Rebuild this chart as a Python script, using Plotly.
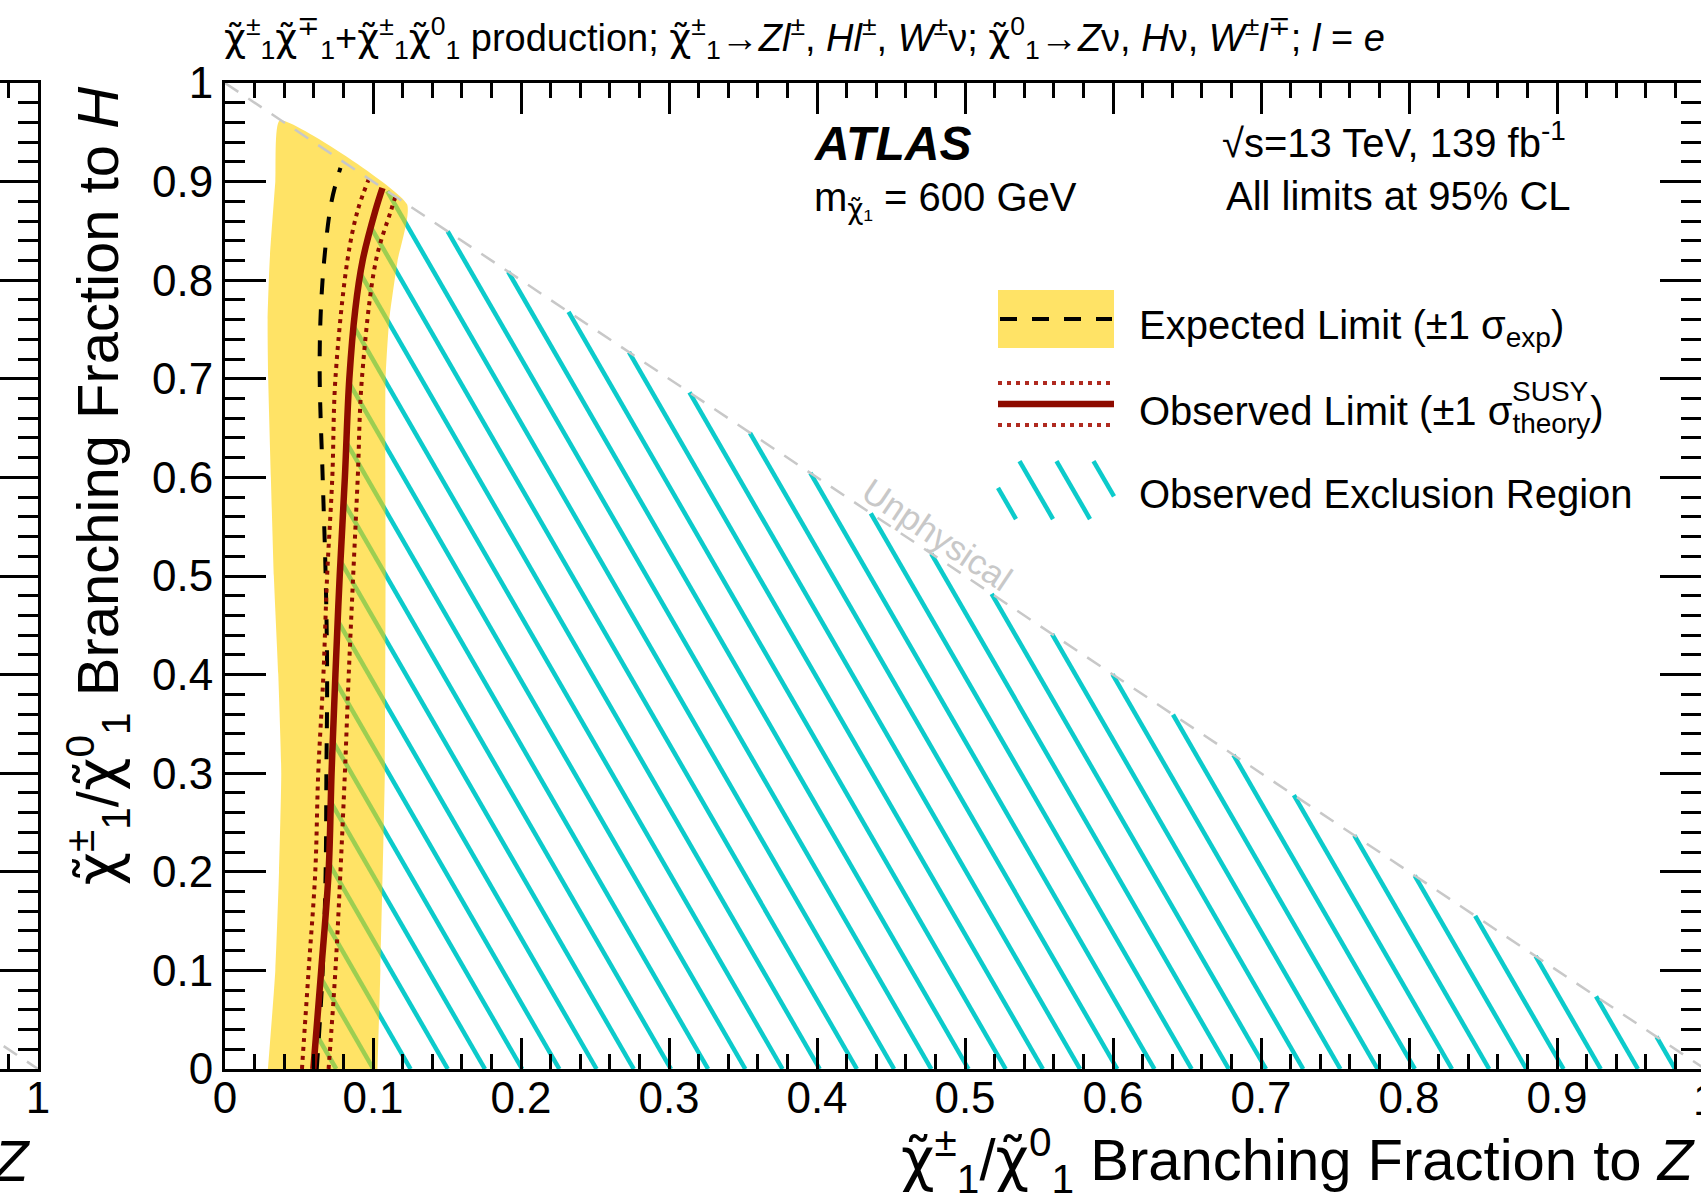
import numpy as np
import plotly.graph_objects as go

FIG_W, FIG_H = 1701, 1201
FONT = "Liberation Sans, Arial, Helvetica, sans-serif"

# ---------------------------------------------------------------------------
# Limits in the (BF to Z, BF to H) plane, m(chi1) = 600 GeV
# ---------------------------------------------------------------------------
# Observed 95% CL contour
obs_bf_h = [0.0, 0.1, 0.2, 0.3, 0.4, 0.5, 0.6, 0.7, 0.77, 0.82, 0.871, 0.8935]
obs_bf_z = [0.0597, 0.065, 0.070, 0.072, 0.0746, 0.0775, 0.081, 0.084, 0.088, 0.093, 0.1017, 0.1064]

# Observed contour, signal cross-section +1 sigma (theory)
obs_hi_bf_h = [0.0, 0.1, 0.2, 0.3, 0.4, 0.5, 0.6, 0.7, 0.82, 0.87, 0.902]
obs_hi_bf_z = [0.052, 0.0565, 0.061, 0.063, 0.0665, 0.069, 0.0725, 0.0746, 0.0827, 0.0895, 0.097]

# Observed contour, signal cross-section -1 sigma (theory)
obs_lo_bf_h = [0.0, 0.1, 0.2, 0.3, 0.4, 0.5, 0.6, 0.7, 0.82, 0.87, 0.884]
obs_lo_bf_z = [0.070, 0.0746, 0.078, 0.081, 0.0836, 0.0866, 0.0897, 0.0925, 0.102, 0.112, 0.115]

# Expected contour
exp_bf_h = [0.0, 0.1, 0.2, 0.3, 0.4, 0.5, 0.6, 0.7, 0.76, 0.82, 0.88, 0.914]
exp_bf_z = [0.062, 0.066, 0.068, 0.0685, 0.069, 0.068, 0.066, 0.064, 0.0645, 0.067, 0.072, 0.078]

# Expected +-1 sigma band: left edge (bottom -> top), right edge (top -> bottom)
band_left_bf_h = [0.0, 0.1, 0.2, 0.3, 0.4, 0.5, 0.6, 0.7, 0.76, 0.82, 0.9, 0.962]
band_left_bf_z = [0.029, 0.034, 0.0365, 0.038, 0.036, 0.033, 0.031, 0.0292, 0.0288, 0.0302, 0.034, 0.037]
band_right_bf_h = [0.877, 0.82, 0.76, 0.7, 0.5, 0.3, 0.1, 0.0]
band_right_bf_z = [0.123, 0.1166, 0.111, 0.1085, 0.1085, 0.108, 0.105, 0.103]

# Kinematic boundary BF(Z) + BF(H) = 1
unphys_bf_z = [0.0, 1.0]
unphys_bf_h = [1.0, 0.0]

# ---------------------------------------------------------------------------
# Colours / styles
# ---------------------------------------------------------------------------
CYAN = "#0ccbcb"
BAND = "rgba(255,208,0,0.6)"
DARK_RED = "#8e0b00"
GREY = "#c8c8c8"

# pixel geometry of the main frame
X0_PX, X1_PX = 225, 1705          # BF(Z)=0 and BF(Z)=1
Y0_PX, Y1_PX = 1069, 83           # BF(H)=0 and BF(H)=1
UNIT_X = X1_PX - X0_PX
UNIT_Y = Y0_PX - Y1_PX


def fx(p):
    return p / FIG_W


def fy(p):
    return 1 - p / FIG_H


# ---------------------------------------------------------------------------
# Hatching of the observed exclusion region (right of the observed contour,
# below the kinematic boundary), 60 degree lines on screen
# ---------------------------------------------------------------------------
HATCH_ANGLE = np.radians(60)
HATCH_STEP = 0.02513
HATCH_PHASE = 0.02488
hatch_slope = (UNIT_Y / UNIT_X) / np.tan(HATCH_ANGLE)


def hatch_lines(edge_z, edge_h, step, slope, phase):
    h = np.linspace(0.0, 1.0, 8001)
    edge = np.interp(h, edge_h, edge_z)
    xs, ys = [], []
    z0 = phase
    while z0 <= 1.0:
        z = z0 - slope * h
        inside = (z >= edge) & (z + h <= 1.0)
        if inside[0]:
            top = len(h) - 1 if inside.all() else int(np.argmin(inside)) - 1
            xs += [z0, float(z[top]), None]
            ys += [0.0, float(h[top]), None]
        z0 += step
    return xs, ys


hx, hy = hatch_lines(obs_bf_z, obs_bf_h, HATCH_STEP, hatch_slope, HATCH_PHASE)

fig = go.Figure()

fig.add_trace(go.Scatter(x=hx, y=hy, mode="lines",
                         line=dict(color=CYAN, width=4.5), hoverinfo="skip"))

band_z = band_left_bf_z + band_right_bf_z
band_h = band_left_bf_h + band_right_bf_h
fig.add_trace(go.Scatter(x=band_z, y=band_h, mode="lines", fill="toself",
                         fillcolor=BAND, line=dict(width=0, color=BAND,
                                                   shape="spline", smoothing=0.5),
                         hoverinfo="skip"))

fig.add_trace(go.Scatter(x=exp_bf_z, y=exp_bf_h, mode="lines", line_shape="spline",
                         line=dict(color="black", width=4, dash="16px,15px")))
for zz, hh in [(obs_hi_bf_z, obs_hi_bf_h), (obs_lo_bf_z, obs_lo_bf_h)]:
    fig.add_trace(go.Scatter(x=zz, y=hh, mode="lines", line_shape="spline",
                             line=dict(color=DARK_RED, width=4, dash="4px,5px")))
fig.add_trace(go.Scatter(x=obs_bf_z, y=obs_bf_h, mode="lines", line_shape="spline",
                         line=dict(color=DARK_RED, width=6.5)))

fig.add_trace(go.Scatter(x=unphys_bf_z, y=unphys_bf_h, mode="lines",
                         line=dict(color=GREY, width=2.5, dash="16px,12px")))

# neighbouring panel (only its right edge is in view)
fig.add_trace(go.Scatter(x=unphys_bf_z, y=unphys_bf_h, mode="lines",
                         xaxis="x2", yaxis="y2",
                         line=dict(color=GREY, width=2.5, dash="16px,12px")))

for tr in fig.data:
    tr.showlegend = False

tickfont = dict(family=FONT, size=44, color="black")
common = dict(showgrid=False, zeroline=False, showline=True, linecolor="black",
              linewidth=3, ticks="inside", tickcolor="black", tickwidth=2.5,
              tickmode="linear", tick0=0, dtick=0.1, tickfont=tickfont)

x_right = (FIG_W - X0_PX) / UNIT_X
fig.update_layout(
    width=FIG_W, height=FIG_H,
    margin=dict(l=0, r=0, t=0, b=0),
    paper_bgcolor="white", plot_bgcolor="white",
    xaxis=dict(domain=[fx(X0_PX), 1.0], range=[0, x_right], mirror="allticks",
               ticklen=31, minor=dict(ticks="inside", ticklen=15, dtick=0.02, tick0=0,
                                      tickwidth=2.5, tickcolor="black"),
               ticklabelstandoff=-12, automargin=False, anchor="y", **common),
    yaxis=dict(domain=[fy(Y0_PX), fy(Y1_PX)], range=[0, 1], mirror="allticks",
               ticklen=41, minor=dict(ticks="inside", ticklen=20, dtick=0.02, tick0=0,
                                      tickwidth=2.5, tickcolor="black"),
               ticklabelstandoff=0, automargin=False, anchor="x", **common),
    xaxis2=dict(domain=[0, fx(38)], range=[1 - 38 / UNIT_X, 1], mirror="allticks",
                ticklen=31, minor=dict(ticks="inside", ticklen=15, dtick=0.02, tick0=0,
                                       tickwidth=2.5, tickcolor="black"),
                ticklabelstandoff=-12, automargin=False, anchor="y2", **common),
    yaxis2=dict(domain=[fy(Y0_PX), fy(Y1_PX)], range=[0, 1], side="right", mirror=False,
                ticklen=41, minor=dict(ticks="inside", ticklen=20, dtick=0.02, tick0=0,
                                       tickwidth=2.5, tickcolor="black"),
                showticklabels=False, automargin=False, anchor="x2", **common),
)


def note(text, xp, yp, size, xanchor="left", yanchor="middle", color="black", angle=0):
    return dict(text=text, x=fx(xp), y=fy(yp), xref="paper", yref="paper",
                showarrow=False, xanchor=xanchor, yanchor=yanchor, textangle=angle,
                font=dict(family=FONT, size=size, color=color))


# chargino / neutralino symbol: chi with a tilde, set in a font with proper
# combining-mark placement
CHI = '<span style="font-family:DejaVu Sans">χ\u0303</span>'


def chi(sup, sub="1"):
    return f"{CHI}<sup>{sup}</sup><sub>{sub}</sub>"


title = (f"{chi('±')}{chi('∓')}+{chi('±')}{chi('0')} production; "
         f"{chi('±')}→<i>Zl</i><sup>±</sup>, <i>Hl</i><sup>±</sup>, <i>W</i><sup>±</sup>ν; "
         f"{chi('0')}→<i>Z</i>ν, <i>H</i>ν, <i>W</i><sup>±</sup><i>l</i><sup>∓</sup>; "
         f"<i>l</i> = <i>e</i>")

annotations = [
    note(title, 222, 38, 38),
    note("<b><i>ATLAS</i></b>", 812, 143, 48),
    note(f"m<sub>{CHI}₁</sub> = 600 GeV", 812, 200, 40),
    note("√s=13 TeV, 139 fb<sup>-1</sup>", 1220, 140, 40),
    note("All limits at 95% CL", 1224, 196, 40),
    note("Expected Limit (±1 σ<sub>exp</sub>)", 1137, 328, 40),
    note("Observed Limit (±1 σ<sub>theory</sub>)", 1137, 414, 40),
    note("SUSY", 1510, 391, 28),
    note("Observed Exclusion Region", 1137, 494, 40),
    note(f"{chi('±')}/{chi('0')} Branching Fraction to <i>Z</i>", 1698, 1160, 58,
         xanchor="right"),
    note(f"{chi('±')}/{chi('0')} Branching Fraction to <i>H</i>", 98, 85, 58,
         xanchor="center", yanchor="top", angle=-90),
    note("<i>Z</i>", 33, 1160, 58, xanchor="right"),
    note("1", 1705, 1099, 44, xanchor="center"),
    dict(text="Unphysical", x=0.4814, y=0.5426, xref="x", yref="y", showarrow=False,
         xanchor="center", yanchor="middle", textangle=33.8,
         font=dict(family=FONT, size=35, color=GREY)),
]
fig.update_layout(annotations=annotations)

# ---------------------------------------------------------------------------
# Legend symbols
# ---------------------------------------------------------------------------
shapes = []


def pshape(kind, x0, y0, x1, y1, **kw):
    d = dict(type=kind, xref="paper", yref="paper",
             x0=fx(x0), x1=fx(x1), y0=fy(y0), y1=fy(y1))
    d.update(kw)
    return d


LX0, LX1 = 998, 1114
shapes.append(pshape("rect", LX0, 290, LX1, 348, fillcolor=BAND, line=dict(width=0)))
shapes.append(pshape("line", LX0 + 2, 319, LX1 - 2, 319,
                     line=dict(color="black", width=4, dash="17px,15px")))
shapes.append(pshape("line", LX0, 404, LX1, 404, line=dict(color=DARK_RED, width=6.5)))
for yy in (383, 425):
    shapes.append(pshape("line", LX0, yy, LX1, yy,
                         line=dict(color="#b02a20", width=4, dash="4px,5px")))

# hatch sample in the legend box
HB_TOP, HB_BOT = 461, 519
run = 1 / np.tan(HATCH_ANGLE)
for xb in (1016, 1053, 1090, 1127):
    xt, yt = xb - (HB_BOT - HB_TOP) * run, HB_TOP
    xe, ye = xb, HB_BOT
    if xt < LX0:
        xt, yt = LX0, HB_BOT - (xb - LX0) / run
    if xe > LX1:
        xe, ye = LX1, HB_BOT - (xb - LX1) / run
    shapes.append(pshape("line", xt, yt, xe, ye, line=dict(color=CYAN, width=4.5)))

fig.update_layout(shapes=shapes)

fig.write_html("out.html")
